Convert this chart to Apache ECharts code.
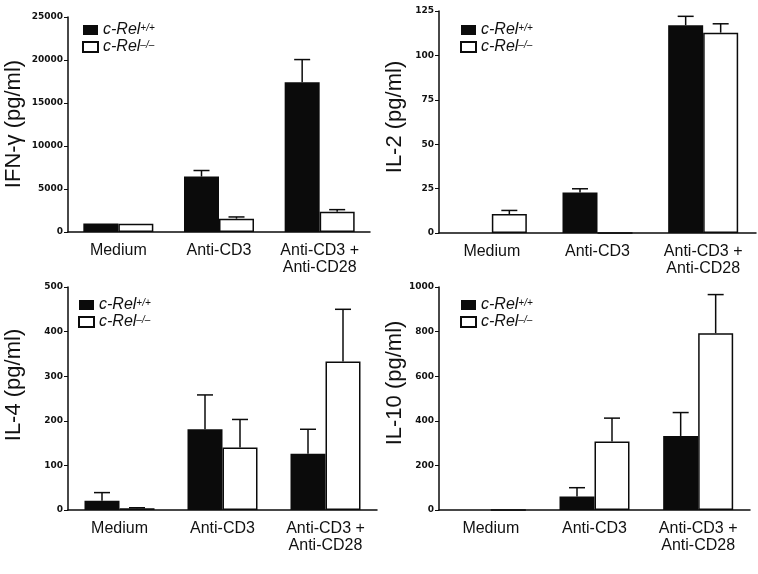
<!DOCTYPE html>
<html>
<head>
<meta charset="utf-8">
<script src="https://cdn.jsdelivr.net/npm/echarts@6/dist/echarts.min.js"></script>
<style>
  html, body { margin: 0; padding: 0; background: #fff; }
  #main { width: 758px; height: 574px; }
</style>
</head>
<body>
<div id="main"></div>
<script>
// categories
var categories = ['Medium', 'Anti-CD3', 'Anti-CD3 +\nAnti-CD28'];

// IFN-gamma
var ifnWt = [1000, 6450, 17400];
var ifnWtSem = [0, 700, 2650];
var ifnKo = [950, 1550, 2350];
var ifnKoSem = [0, 200, 250];

// IL-2
var il2Wt = [0, 22.8, 117];
var il2WtSem = [0, 2.1, 5];
var il2Ko = [10.7, 0, 112.8];
var il2KoSem = [2, 0, 5];

// IL-4
var il4Wt = [21, 181, 126];
var il4WtSem = [18, 77, 55];
var il4Ko = [4, 140, 333];
var il4KoSem = [1, 63, 117];

// IL-10
var il10Wt = [0, 60, 332];
var il10WtSem = [0, 40, 105];
var il10Ko = [0, 307, 793];
var il10KoSem = [0, 105, 173];

var barW = 35;
var ink = '#0b0b0b';

var panels = [
    {title: 'IFN-\u03b3 (pg/ml)', wt: ifnWt, wtSem: ifnWtSem, ko: ifnKo, koSem: ifnKoSem,
     max: 25000, step: 5000, grid: {left: 68, top: 17, width: 302, height: 215},
     legend: {left: 82, top: 22}, name: {x: 14, y: 124}},
    {title: 'IL-2 (pg/ml)', wt: il2Wt, wtSem: il2WtSem, ko: il2Ko, koSem: il2KoSem,
     max: 125, step: 25, grid: {left: 439, top: 11, width: 317, height: 222},
     legend: {left: 460, top: 22}, name: {x: 395, y: 117}},
    {title: 'IL-4 (pg/ml)', wt: il4Wt, wtSem: il4WtSem, ko: il4Ko, koSem: il4KoSem,
     max: 500, step: 100, grid: {left: 68, top: 287, width: 309, height: 223},
     legend: {left: 78, top: 297}, name: {x: 14, y: 385}},
    {title: 'IL-10 (pg/ml)', wt: il10Wt, wtSem: il10WtSem, ko: il10Ko, koSem: il10KoSem,
     max: 1000, step: 200, grid: {left: 439, top: 287, width: 311, height: 223},
     legend: {left: 460, top: 297}, name: {x: 395, y: 383}}
];

function errorSeries(gi, vals, sems, side, name) {
    var data = vals.map(function (v, i) { return [i, v, v + sems[i], sems[i]]; });
    return {
        type: 'custom',
        name: name,
        xAxisIndex: gi,
        yAxisIndex: gi,
        z: 5,
        silent: true,
        data: data,
        encode: {x: 0, y: [1, 2]},
        renderItem: function (params, api) {
            if (!(api.value(3) > 0)) return null;
            var lo = api.coord([api.value(0), api.value(1)]);
            var hi = api.coord([api.value(0), api.value(2)]);
            var x = lo[0] + side * barW / 2;
            var st = {stroke: ink, lineWidth: 1.5};
            return {
                type: 'group',
                children: [
                    {type: 'line', shape: {x1: x, y1: lo[1], x2: x, y2: hi[1]}, style: st},
                    {type: 'line', shape: {x1: x - 8, y1: hi[1], x2: x + 8, y2: hi[1]}, style: st}
                ]
            };
        }
    };
}

var grids = [], xAxes = [], yAxes = [], series = [], legends = [], graphics = [];

panels.forEach(function (p, gi) {
    grids.push(p.grid);
    xAxes.push({
        type: 'category',
        gridIndex: gi,
        data: categories,
        axisLine: {lineStyle: {color: ink, width: 1.5}},
        axisTick: {show: false},
        axisLabel: {
            color: '#111', fontFamily: 'Liberation Sans, Arial', fontSize: 16,
            lineHeight: 17, margin: 10, interval: 0
        }
    });
    yAxes.push({
        type: 'value',
        gridIndex: gi,
        min: 0,
        max: p.max,
        interval: p.step,
        splitLine: {show: false},
        axisLine: {show: true, lineStyle: {color: ink, width: 1.5}},
        axisTick: {show: true, length: 4, lineStyle: {color: ink, width: 1}},
        axisLabel: {
            color: '#111', fontFamily: 'DejaVu Sans', fontWeight: 'bold', fontSize: 9, margin: 5,
            formatter: function (v) { return String(v); }
        }
    });
    var wtName = 'wt' + gi, koName = 'ko' + gi;
    series.push({
        type: 'bar', name: wtName, xAxisIndex: gi, yAxisIndex: gi,
        data: p.wt, barWidth: barW, barGap: '0%',
        itemStyle: {color: ink}
    });
    series.push({
        type: 'bar', name: koName, xAxisIndex: gi, yAxisIndex: gi,
        data: p.ko, barWidth: barW, barGap: '0%',
        itemStyle: {color: '#fff', borderColor: ink, borderWidth: 1.5}
    });
    series.push(errorSeries(gi, p.wt, p.wtSem, -1, 'ewt' + gi));
    series.push(errorSeries(gi, p.ko, p.koSem, 1, 'eko' + gi));
    legends.push({
        data: [{name: wtName, icon: 'rect'}, {name: koName, icon: 'rect'}],
        orient: 'vertical',
        left: p.legend.left,
        top: p.legend.top,
        padding: 0,
        itemWidth: 15,
        itemHeight: 10,
        itemGap: 1,
        selectedMode: false,
        formatter: function (n) {
            return n.indexOf('wt') === 0 ? '{i|c-Rel}{s|+/+}' : '{i|c-Rel}{s|\u2013/\u2013}';
        },
        textStyle: {
            rich: {
                i: {fontFamily: 'Liberation Sans, Arial', fontStyle: 'italic', fontSize: 16, color: '#111', lineHeight: 14},
                s: {fontFamily: 'Liberation Sans, Arial', fontStyle: 'italic', fontSize: 10, color: '#111', verticalAlign: 'top', lineHeight: 10}
            }
        }
    });
    graphics.push({
        type: 'text',
        x: p.name.x,
        y: p.name.y,
        rotation: Math.PI / 2,
        style: {
            text: p.title,
            fontFamily: 'Liberation Sans, Arial',
            fontSize: 22,
            fill: '#111',
            align: 'center',
            verticalAlign: 'middle'
        }
    });
});

var chart = echarts.init(document.getElementById('main'));
chart.setOption({
    backgroundColor: '#fff',
    animation: false,
    grid: grids,
    xAxis: xAxes,
    yAxis: yAxes,
    legend: legends,
    graphic: graphics,
    series: series
});
</script>
</body>
</html>
